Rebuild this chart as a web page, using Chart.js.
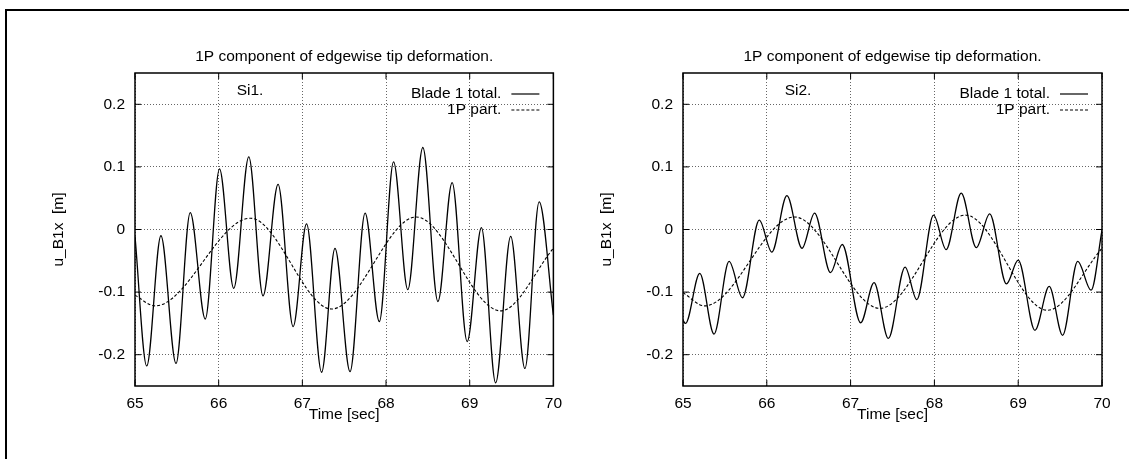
<!DOCTYPE html>
<html>
<head>
<meta charset="utf-8">
<script src="https://cdn.jsdelivr.net/npm/chart.js@4"></script>
<style>
  html, body { margin: 0; padding: 0; background: #fff; overflow: hidden; }
  body { width: 1129px; height: 459px; position: relative; }
  #frame { position: absolute; left: 5px; top: 9px; width: 1130px; height: 460px;
           border-top: 2px solid #000; border-left: 2px solid #000; }
  canvas { position: absolute; top: 0; }
  #chart1 { left: 0; }
  #chart2 { left: 548px; }
</style>
</head>
<body>
<div id="frame"></div>
<canvas id="chart1" width="570" height="459"></canvas>
<canvas id="chart2" width="581" height="459"></canvas>
<script>
const plotTitle = "1P component of edgewise tip deformation.";
const xTitle = "Time [sec]";
const yTitle = "u_B1x  [m]";
const xTicks = [65, 66, 67, 68, 69, 70];
const yTicks = [-0.2, -0.1, 0, 0.1, 0.2];
const yTickLabels = ["-0.2", "-0.1", "0", "0.1", "0.2"];

// Si1. - total edgewise tip deflection (peaks and troughs)
const t1Total = [65.00, 65.14, 65.31, 65.49, 65.66, 65.84, 66.01, 66.18, 66.36, 66.53,
  66.71, 66.89, 67.05, 67.23, 67.39, 67.57, 67.75, 67.92, 68.09, 68.26,
  68.44, 68.62, 68.79, 68.97, 69.14, 69.31, 69.49, 69.66, 69.83, 70.00];
const v1Total = [-0.011, -0.218, -0.010, -0.214, 0.027, -0.143, 0.097, -0.094, 0.116, -0.106,
  0.072, -0.155, 0.009, -0.228, -0.030, -0.227, 0.026, -0.147, 0.108, -0.096,
  0.131, -0.115, 0.075, -0.179, 0.003, -0.245, -0.011, -0.222, 0.044, -0.137];
// Si1. - 1P part
const t1P = [65.00, 65.24, 66.38, 67.35, 68.36, 69.37, 70.00];
const v1P = [-0.105, -0.122, 0.018, -0.127, 0.020, -0.130, -0.030];

// Si2. - total
const t2Total = [65.00, 65.03, 65.20, 65.37, 65.55, 65.71, 65.91, 66.06, 66.24, 66.42,
  66.57, 66.76, 66.90, 67.12, 67.28, 67.45, 67.65, 67.79, 67.99, 68.14,
  68.32, 68.50, 68.66, 68.86, 69.00, 69.20, 69.37, 69.53, 69.71, 69.87, 70.00];
const v2Total = [-0.145, -0.150, -0.070, -0.167, -0.051, -0.109, 0.015, -0.036, 0.054, -0.030,
  0.026, -0.069, -0.024, -0.149, -0.085, -0.174, -0.060, -0.112, 0.023, -0.032,
  0.058, -0.029, 0.025, -0.087, -0.049, -0.161, -0.091, -0.169, -0.051, -0.097, -0.001];
// Si2. - 1P part
const t2P = [65.00, 65.26, 66.33, 67.35, 68.37, 69.35, 70.00];
const v2P = [-0.101, -0.122, 0.020, -0.126, 0.023, -0.129, -0.030];

const fontFamily = '"Liberation Sans", Arial, Helvetica, sans-serif';
Chart.defaults.font.family = fontFamily;
Chart.defaults.font.size = 15.5;
Chart.defaults.color = "#000";

function pts(ts, vs) {
  return ts.map((t, i) => ({ x: t, y: vs[i] }));
}

// box, inward ticks, title, run label and gnuplot-like legend
const panelDecor = {
  id: "panelDecor",
  afterDraw(chart, args, opts) {
    const { ctx, chartArea: a, scales } = chart;
    ctx.save();
    ctx.strokeStyle = "#000";
    ctx.lineWidth = 1.5;
    ctx.strokeRect(a.left, a.top, a.right - a.left, a.bottom - a.top);

    ctx.lineWidth = 1;
    ctx.beginPath();
    xTicks.forEach(v => {
      const px = scales.x.getPixelForValue(v);
      ctx.moveTo(px, a.bottom); ctx.lineTo(px, a.bottom - 6);
      ctx.moveTo(px, a.top); ctx.lineTo(px, a.top + 6);
    });
    yTicks.forEach(v => {
      const py = scales.y.getPixelForValue(v);
      ctx.moveTo(a.left, py); ctx.lineTo(a.left + 6, py);
      ctx.moveTo(a.right, py); ctx.lineTo(a.right - 6, py);
    });
    ctx.stroke();

    ctx.font = "15.5px " + fontFamily;
    ctx.fillStyle = "#000";
    ctx.textBaseline = "middle";
    ctx.textAlign = "center";
    ctx.fillText(plotTitle, (a.left + a.right) / 2, a.top - 16);
    ctx.fillText(opts.run, a.left + 115, a.top + 18);

    ctx.textAlign = "right";
    ctx.lineWidth = 1.2;
    chart.data.datasets.forEach((ds, i) => {
      const y = a.top + 21 + i * 16;
      ctx.fillText(ds.label, a.right - 52, y);
      ctx.setLineDash(ds.borderDash || []);
      ctx.beginPath();
      ctx.moveTo(a.right - 42, y);
      ctx.lineTo(a.right - 14, y);
      ctx.stroke();
    });
    ctx.restore();
  }
};

function makeChart(canvasId, run, total, part, rightPad) {
  return new Chart(document.getElementById(canvasId), {
    type: "line",
    data: {
      datasets: [
        {
          label: "Blade 1 total.",
          data: total,
          borderColor: "#000",
          borderWidth: 1.3,
          pointRadius: 0,
          cubicInterpolationMode: "monotone",
        },
        {
          label: "1P part.",
          data: part,
          borderColor: "#000",
          borderWidth: 1.1,
          borderDash: [3, 2],
          pointRadius: 0,
          cubicInterpolationMode: "monotone",
        },
      ],
    },
    options: {
      responsive: false,
      animation: false,
      events: [],
      devicePixelRatio: 1,
      layout: { padding: { top: 73, left: 0, right: rightPad, bottom: 0 } },
      plugins: {
        legend: { display: false },
        tooltip: { enabled: false },
        panelDecor: { run: run },
      },
      scales: {
        x: {
          type: "linear",
          min: 65,
          max: 70,
          afterBuildTicks: s => { s.ticks = xTicks.map(v => ({ value: v })); },
          afterFit: s => { s.height = 73; },
          ticks: { padding: 8, maxRotation: 0, callback: v => String(v) },
          grid: { color: "#666", drawTicks: false },
          border: { display: false, dash: [1, 2] },
          title: { display: true, text: xTitle, padding: { top: 0, bottom: 35 } },
        },
        y: {
          type: "linear",
          min: -0.25,
          max: 0.25,
          afterBuildTicks: s => { s.ticks = yTicks.map(v => ({ value: v })); },
          afterFit: s => { s.width = 135; },
          ticks: { padding: 10, callback: v => yTickLabels[yTicks.indexOf(v)] },
          grid: { color: "#666", drawTicks: false },
          border: { display: false, dash: [1, 2] },
          title: { display: true, text: yTitle, padding: { top: 49, bottom: 0 } },
        },
      },
    },
    plugins: [panelDecor],
  });
}

makeChart("chart1", "Si1.", pts(t1Total, v1Total), pts(t1P, v1P), 16);
makeChart("chart2", "Si2.", pts(t2Total, v2Total), pts(t2P, v2P), 27);
</script>
</body>
</html>
